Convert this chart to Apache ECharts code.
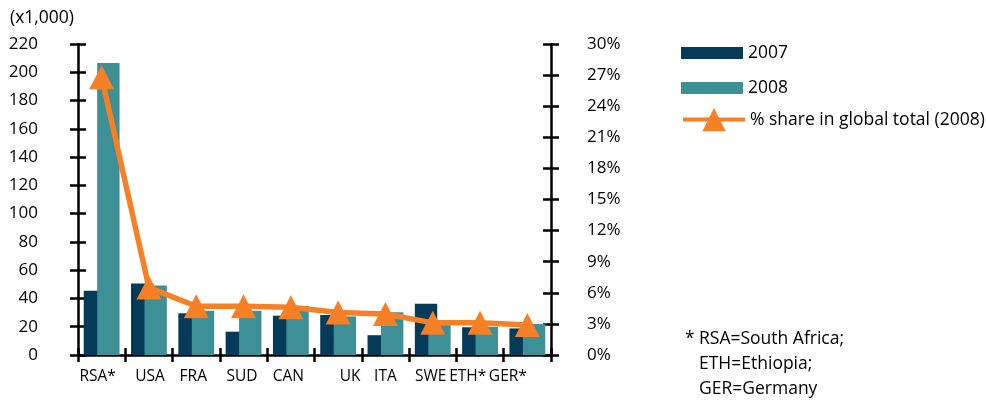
<!DOCTYPE html>
<html><head><meta charset="utf-8">
<script src="https://cdn.jsdelivr.net/npm/echarts@6/dist/echarts.min.js"></script>
<style>html,body{margin:0;padding:0;background:#fff}#c{width:986px;height:402px}</style>
</head><body><div id="c"></div>
<script>
var categories = ['RSA*', 'USA', 'FRA', 'SUD', 'CAN', 'UK', 'ITA', 'SWE', 'ETH*', 'GER*'];
var values2007 = [45.5, 50.5, 29.5, 16.5, 27.8, 28.3, 14, 36.3, 19.6, 18.8];
var values2008 = [206.6, 49.2, 31.3, 31.3, 34.6, 27.3, 30.2, 21.2, 20, 21.9];
var shareValues = [26.8, 6.5, 4.7, 4.7, 4.6, 4.1, 3.95, 3.1, 3.1, 2.9];
var leftTicks = {min: 0, max: 220, interval: 20};
var rightTicks = {min: 0, max: 30, interval: 3};
var seriesNames = ['2007', '2008', '% share in global total (2008)'];
var footnoteLines = ['RSA=South Africa;', 'ETH=Ethiopia;', 'GER=Germany'];

// label nudges (style only, px)
var labelShift = [-4, 1, -3, -1.5, -2.5, 12, 0, -2, -12.3, -19.5];

var FONT = 'Open Sans';
var C07 = '#053a58', C08 = '#3e9097', COR = '#f58025';
var rich = {};
labelShift.forEach(function (d, i) {
  rich['s' + i] = {fontFamily: FONT, fontSize: 15.5, color: '#000',
    padding: d >= 0 ? [0, 0, 0, 2 * d] : [0, -2 * d, 0, 0]};
});
var axisLineStyle = {color: '#000', width: 2.5};
var tickStyle = {color: '#000', width: 2.5};
var legendText = {fontFamily: FONT, fontSize: 17.5, color: '#000', lineHeight: 20, padding: [6, 0, 0, 0]};

var chart = echarts.init(document.getElementById('c'), null, {renderer: 'canvas'});
chart.setOption({
  animation: false,
  grid: {left: 78, right: 435, top: 44, bottom: 47, containLabel: false},
  xAxis: [
    {type: 'category', data: categories, position: 'bottom',
      axisLine: {show: true, lineStyle: axisLineStyle},
      axisTick: {show: true, inside: false, length: 7, interval: 0, lineStyle: tickStyle},
      axisLabel: {margin: 14, interval: 0, formatter: function (v, i) { return '{s' + i + '|' + v + '}'; }, rich: rich},
      splitLine: {show: false}},
    {type: 'category', data: categories, position: 'bottom',
      axisLine: {show: false},
      axisTick: {show: true, inside: true, length: 7, interval: 0, lineStyle: tickStyle},
      axisLabel: {show: false}, splitLine: {show: false}}
  ],
  yAxis: [
    {type: 'value', position: 'left', min: leftTicks.min, max: leftTicks.max, interval: leftTicks.interval,
      axisLine: {show: true, lineStyle: axisLineStyle},
      axisTick: {show: true, inside: false, length: 8, lineStyle: tickStyle},
      axisLabel: {margin: 40, fontFamily: FONT, fontSize: 17, color: '#000', align: 'right'},
      splitLine: {show: false}},
    {type: 'value', position: 'right', min: rightTicks.min, max: rightTicks.max, interval: rightTicks.interval,
      axisLine: {show: true, lineStyle: axisLineStyle},
      axisTick: {show: true, inside: false, length: 8, lineStyle: tickStyle},
      axisLabel: {margin: 36, fontFamily: FONT, fontSize: 17, color: '#000', align: 'left', formatter: '{value}%'},
      splitLine: {show: false}},
    {type: 'value', position: 'left', min: leftTicks.min, max: leftTicks.max, interval: leftTicks.interval,
      axisLine: {show: false},
      axisTick: {show: true, inside: true, length: 8, lineStyle: tickStyle},
      axisLabel: {show: false}, splitLine: {show: false}},
    {type: 'value', position: 'right', min: rightTicks.min, max: rightTicks.max, interval: rightTicks.interval,
      axisLine: {show: false},
      axisTick: {show: true, inside: true, length: 8, lineStyle: tickStyle},
      axisLabel: {show: false}, splitLine: {show: false}}
  ],
  legend: [
    {data: [seriesNames[0]], orient: 'vertical', left: 681, top: 40, padding: 0,
      itemWidth: 62, itemHeight: 12, icon: 'rect', textStyle: legendText},
    {data: [seriesNames[1]], orient: 'vertical', left: 681, top: 75, padding: 0,
      itemWidth: 62, itemHeight: 12, icon: 'rect', textStyle: legendText},
    {data: [seriesNames[2]], orient: 'vertical', left: 681, top: 108, padding: 0,
      itemWidth: 62, itemHeight: 29, lineStyle: {width: 4},
      textStyle: {fontFamily: FONT, fontSize: 17.5, color: '#000', lineHeight: 20}}
  ],
  series: [
    {name: seriesNames[0], type: 'bar', xAxisIndex: 0, yAxisIndex: 0, data: values2007,
      barWidth: 22.4, barGap: '-40%', itemStyle: {color: C07}},
    {name: seriesNames[1], type: 'bar', xAxisIndex: 0, yAxisIndex: 0, data: values2008,
      barWidth: 22.4, barGap: '-40%', itemStyle: {color: C08}},
    {name: seriesNames[2], type: 'line', xAxisIndex: 0, yAxisIndex: 1, data: shareValues,
      symbol: 'triangle', symbolSize: [25, 24], showSymbol: true,
      lineStyle: {color: COR, width: 5.5}, itemStyle: {color: COR}, z: 5}
  ],
  graphic: [
    {type: 'text', left: 10, top: 9, style: {text: '(x1,000)', font: '17.5px ' + FONT, fill: '#000'}},
    {type: 'text', left: 685, top: 330, style: {text: '*', font: '17.5px ' + FONT, fill: '#000'}},
    {type: 'text', left: 699, top: 327, style: {text: footnoteLines.join('\n'), font: '17.5px ' + FONT, lineHeight: 25, fill: '#000'}}
  ]
});
</script></body></html>
